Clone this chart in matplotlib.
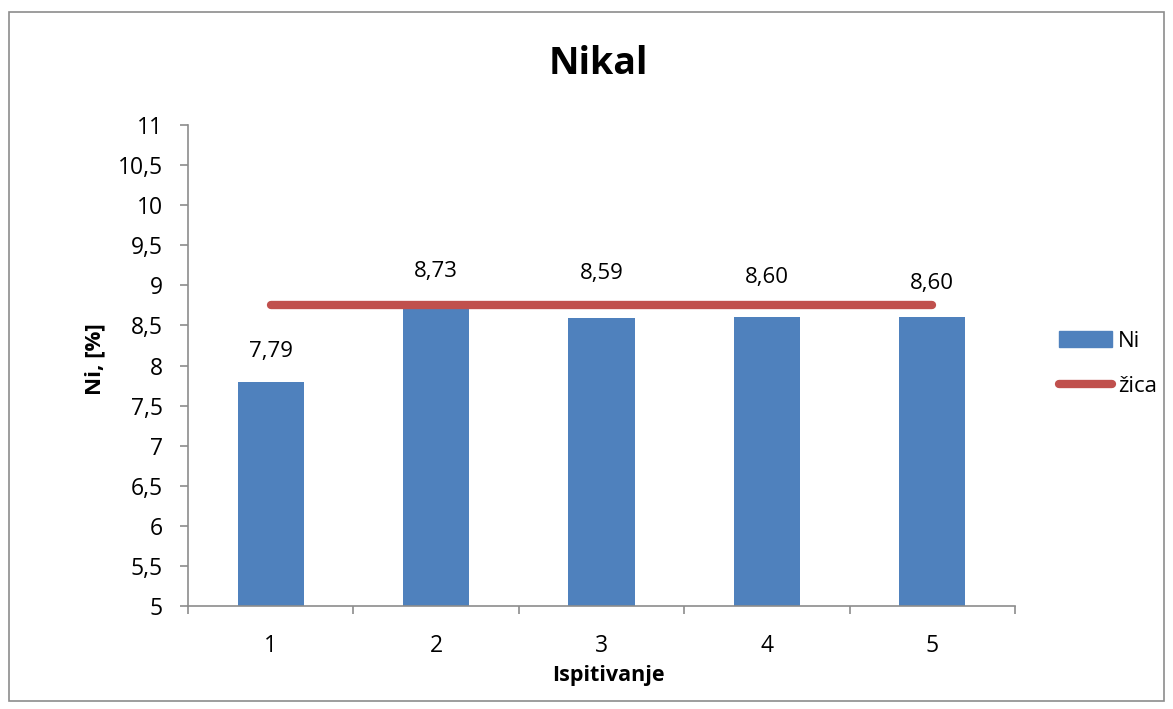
import matplotlib.pyplot as plt
from matplotlib.patches import Rectangle
from matplotlib.lines import Line2D

categories = ["1", "2", "3", "4", "5"]
ni_values = [7.79, 8.73, 8.59, 8.60, 8.60]
zica_value = 8.76
value_labels = ["7,79", "8,73", "8,59", "8,60", "8,60"]
y_ticks = [5, 5.5, 6, 6.5, 7, 7.5, 8, 8.5, 9, 9.5, 10, 10.5, 11]
y_tick_labels = ["5", "5,5", "6", "6,5", "7", "7,5", "8", "8,5", "9", "9,5", "10", "10,5", "11"]

# label offsets above bar tops (pixels), as Excel placed them
label_offsets_px = [31, 35, 45, 40, 34]

plt.rcParams['font.family'] = ['Open Sans', 'DejaVu Sans']
W, H = 1173, 709
blue = '#4f81bd'
red = '#c0504d'
grey = '#8c8c8c'

fig = plt.figure(figsize=(W / 100, H / 100), dpi=100)
fig.patches.append(Rectangle((9 / W, 1 - 701 / H), 1155 / W, 689 / H,
                             transform=fig.transFigure, fill=False,
                             edgecolor=grey, linewidth=1.2))

ax = fig.add_axes([188 / W, 1 - 606 / H, 827 / W, 481 / H])

x = list(range(1, len(categories) + 1))
ax.bar(x, ni_values, width=0.4, color=blue, zorder=2)
ax.plot([x[0], x[-1]], [zica_value, zica_value], color=red, linewidth=6,
        solid_capstyle='round', zorder=3)

for xi, v, lab, off in zip(x, ni_values, value_labels, label_offsets_px):
    ax.annotate(lab, (xi, v), xytext=(0, off * 0.72), textcoords='offset points',
                ha='center', va='center', fontsize=16)

ax.set_xlim(0.5, 5.5)
ax.set_ylim(5, 11)
ax.set_yticks(y_ticks)
ax.set_yticklabels(y_tick_labels, fontsize=16.5)
ax.set_xticks(x)
ax.set_xticklabels(categories, fontsize=16.5)
ax.set_xticks([0.5, 1.5, 2.5, 3.5, 4.5, 5.5], minor=True)
ax.tick_params(axis='x', which='major', length=0, pad=20)
ax.tick_params(axis='x', which='minor', length=6, width=1.2, color=grey, direction='out')
ax.tick_params(axis='y', length=6, width=1.2, color=grey, direction='out', pad=12)

for s in ['top', 'right']:
    ax.spines[s].set_visible(False)
for s in ['left', 'bottom']:
    ax.spines[s].set_color(grey)
    ax.spines[s].set_linewidth(1.2)

fig.text(598 / W, 1 - 64 / H, 'Nikal', fontsize=27, fontweight='bold', ha='center', va='center')
fig.text(608 / W, 1 - 676 / H, 'Ispitivanje', fontsize=15.5, fontweight='bold', ha='center', va='center')
fig.text(95 / W, 1 - 359 / H, 'Ni, [%]', fontsize=16, fontweight='bold', ha='center', va='center',
         rotation=90)

handles = [Rectangle((0, 0), 1, 1, color=blue),
           Line2D([0], [0], color=red, linewidth=6, solid_capstyle='round')]
fig.legend(handles, ['Ni', 'žica'], loc='center left', bbox_to_anchor=(1059 / W, 1 - 364 / H),
           frameon=False, fontsize=16, borderpad=0, borderaxespad=0,
           handlelength=2.4, handleheight=0.7, labelspacing=1.1, handletextpad=0.25)

fig.savefig('out.png', dpi=100)
